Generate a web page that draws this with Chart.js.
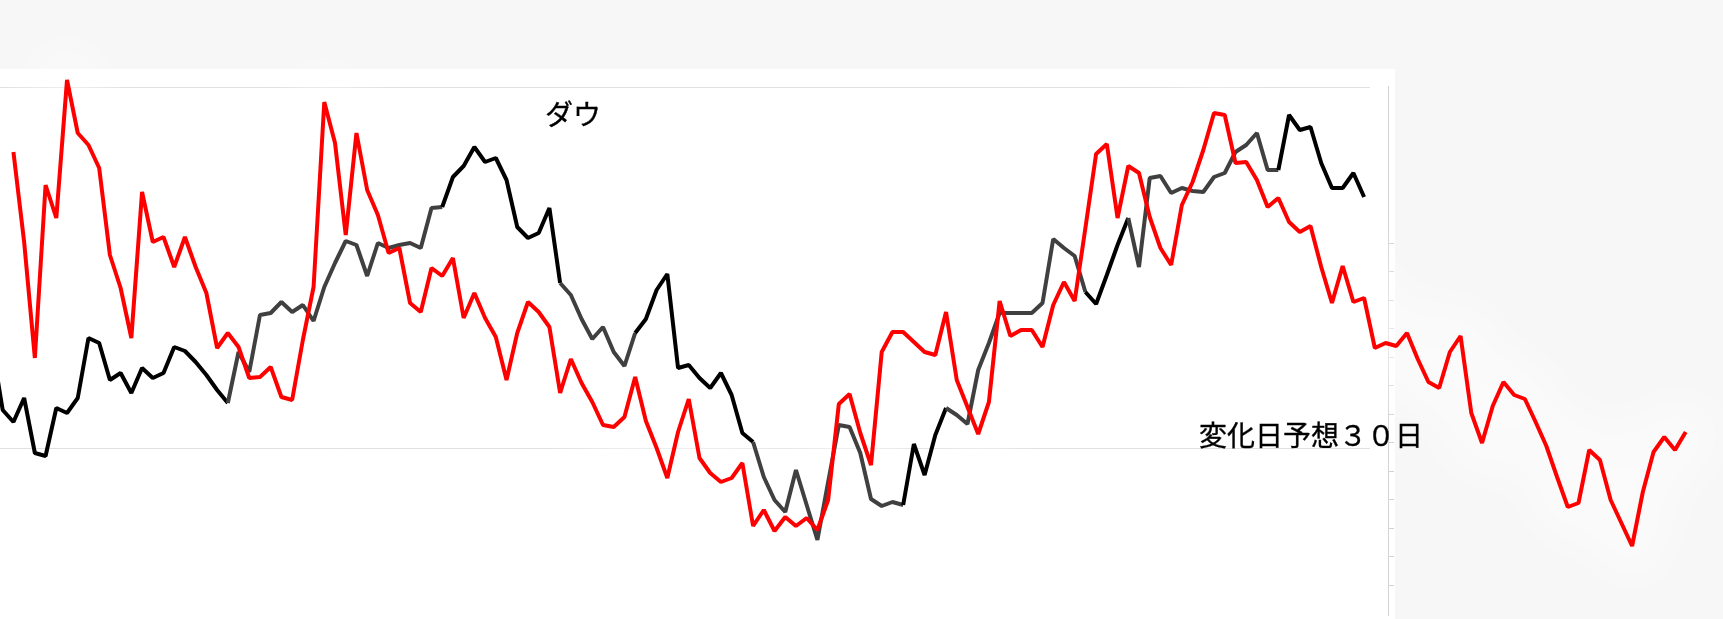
<!DOCTYPE html>
<html lang="ja">
<head>
<meta charset="utf-8">
<title>ダウ 変化日予想３０日</title>
<script src="https://cdn.jsdelivr.net/npm/chart.js@4.4.1/dist/chart.umd.min.js"></script>
<style>
  html, body { margin: 0; padding: 0; background: #f7f7f7; overflow: hidden; }
  #wrap { position: relative; width: 1723px; height: 619px; }
</style>
</head>
<body>
<div id="wrap"><canvas id="chart" width="1723" height="619"></canvas></div>
<script>
// ダウ (日 -1 から 127)
var dow = [
  34515, 34190, 34130, 34250, 33975, 33960, 34200, 34175, 34250, 34550,
  34525, 34340, 34375, 34275, 34400, 34350, 34375, 34505, 34485, 34430,
  34365, 34290, 34225, 34480, 34380, 34665, 34675, 34730, 34680, 34715,
  34635, 34805, 34925, 35035, 35015, 34860, 35025, 35000, 35015, 35025,
  35000, 35200, 35205, 35355, 35410, 35505, 35430, 35450, 35340, 35105,
  35050, 35075, 35200, 34825, 34765, 34645, 34545, 34605, 34480, 34410,
  34575, 34645, 34790, 34870, 34400, 34415, 34350, 34300, 34375, 34265,
  34075, 34030, 33855, 33740, 33680, 33890, 33715, 33540, 33830, 34115,
  34105, 33975, 33745, 33710, 33730, 33715, 34020, 33865, 34065, 34200,
  34165, 34120, 34390, 34525, 34675, 34675, 34675, 34675, 34725, 35045,
  35000, 34960, 34780, 34720, 34865, 35015, 35150, 34905, 35350, 35360,
  35275, 35300, 35285, 35280, 35355, 35375, 35480, 35515, 35575, 35390,
  35390, 35665, 35590, 35605, 35425, 35300, 35300, 35375, 35255
];

// 変化日予想３０日 (日 -1 から 157)
var forecast30 = [
  null, null, 35480, 35030, 34450, 35315, 35150, 35840, 35575, 35515,
  35400, 34965, 34800, 34550, 35280, 35030, 35055, 34905, 35055, 34905,
  34775, 34500, 34575, 34505, 34350, 34355, 34405, 34255, 34240, 34540,
  34805, 35730, 35525, 35065, 35575, 35290, 35165, 34975, 35000, 34725,
  34680, 34900, 34860, 34950, 34650, 34775, 34650, 34555, 34340, 34575,
  34730, 34680, 34605, 34275, 34445, 34325, 34230, 34115, 34105, 34155,
  34355, 34135, 34000, 33850, 34080, 34245, 33950, 33875, 33830, 33850,
  33925, 33610, 33690, 33585, 33655, 33610, 33650, 33590, 33740, 34220,
  34270, 34075, 33915, 34480, 34580, 34580, 34530, 34480, 34465, 34680,
  34340, 34205, 34070, 34230, 34735, 34560, 34590, 34590, 34505, 34715,
  34830, 34735, 35100, 35470, 35520, 35150, 35410, 35375, 35155, 35000,
  34915, 35215, 35330, 35490, 35675, 35665, 35425, 35430, 35340, 35205,
  35250, 35130, 35080, 35110, 34905, 34725, 34910, 34730, 34750, 34500,
  34525, 34510, 34575, 34445, 34330, 34300, 34480, 34560, 34175, 34025,
  34210, 34330, 34265, 34245, 34130, 34010, 33855, 33705, 33725, 33990,
  33940, 33740, 33625, 33510, 33780, 33980, 34055, 33990, 34080
];

// ダウが灰色の期間 [開始日, 終了日)
var grayRuns = [[21, 41], [52, 59], [70, 84], [88, 101], [105, 119]];

var gridValues = [34000, 35805];
var rightTicks = [0, 1, 2, 3, 4, 5, 6, 7, 8, 9, 10, 11, 12];
var lastDowDay = 127.55;

var days = forecast30.map(function (v, i) { return i - 1; });

function isGray(day) {
  for (var i = 0; i < grayRuns.length; i++) {
    if (day >= grayRuns[i][0] && day < grayRuns[i][1]) return true;
  }
  return false;
}

var panelPlugin = {
  id: 'panel',
  beforeDraw: function (chart) {
    var ctx = chart.ctx;
    ctx.save();
    ctx.fillStyle = '#ffffff';
    ctx.fillRect(0, 69, 1395, 550);
    ctx.restore();
  },
  // soft white halo under the red line (only visible on the grey part)
  beforeDatasetDraw: function (chart, args) {
    if (args.index === 2) {
      chart.ctx.save();
      chart.ctx.filter = 'blur(22px)';
    }
  },
  afterDatasetDraw: function (chart, args) {
    if (args.index === 2) chart.ctx.restore();
  }
};

var textPlugin = {
  id: 'texts',
  afterDraw: function (chart) {
    var ctx = chart.ctx;
    ctx.save();
    ctx.fillStyle = '#000000';
    ctx.strokeStyle = '#000000';
    ctx.lineWidth = 0.35;
    ctx.font = '28px "Noto Sans CJK JP"';
    ctx.textAlign = 'center';
    ctx.textBaseline = 'middle';
    ctx.fillText('ダウ', 573, 114);
    ctx.strokeText('ダウ', 573, 114);
    ctx.fillText('変化日予想３０日', 1311, 435);
    ctx.strokeText('変化日予想３０日', 1311, 435);
    ctx.restore();
  }
};

new Chart(document.getElementById('chart'), {
  type: 'line',
  data: {
    labels: days,
    datasets: [
      {
        label: '変化日予想３０日',
        data: forecast30,
        borderColor: '#ff0000',
        borderWidth: 4,
        borderJoinStyle: 'bevel',
        pointRadius: 0,
        tension: 0,
        clip: false
      },
      {
        label: 'ダウ',
        data: dow,
        borderColor: '#000000',
        borderWidth: 4,
        borderJoinStyle: 'bevel',
        pointRadius: 0,
        tension: 0,
        clip: false,
        segment: {
          borderColor: function (ctx) {
            return isGray(days[ctx.p0DataIndex]) ? '#404040' : '#000000';
          }
        }
      },
      {
        label: 'halo',
        data: forecast30,
        borderColor: 'rgba(255,255,255,0.45)',
        borderWidth: 70,
        borderJoinStyle: 'round',
        borderCapStyle: 'round',
        pointRadius: 0,
        tension: 0,
        clip: false
      }
    ]
  },
  options: {
    responsive: false,
    animation: false,
    devicePixelRatio: 1,
    layout: { padding: { left: 0, top: 86, right: 329, bottom: 4 } },
    plugins: {
      legend: { display: false },
      tooltip: { enabled: false },
      title: { display: false }
    },
    scales: {
      x: {
        type: 'linear',
        display: false,
        bounds: 'data',
        min: -0.252,
        afterDataLimits: function (s) { s.max = lastDowDay; }
      },
      y: {
        position: 'left',
        min: 33165,
        max: 35810,
        bounds: 'data',
        afterBuildTicks: function (s) {
          s.ticks = gridValues.map(function (v) { return { value: v }; });
        },
        ticks: { display: false },
        border: { display: false },
        grid: { color: '#e0e0e0', lineWidth: 1, drawTicks: false }
      },
      yGap: {
        position: 'right',
        weight: 0,
        min: 0,
        max: 1,
        ticks: { display: false },
        border: { display: false },
        grid: { display: false },
        afterFit: function (s) { s.width = 18; }
      },
      yRight: {
        position: 'right',
        weight: 1,
        min: -1.0526,
        max: 17.509,
        bounds: 'data',
        afterBuildTicks: function (s) {
          s.ticks = rightTicks.map(function (v) { return { value: v }; });
        },
        ticks: { display: false },
        border: { display: true, color: '#d4d4d4', width: 1 },
        grid: { drawOnChartArea: false, drawTicks: true, tickLength: 6, color: '#d4d4d4' },
        afterFit: function (s) { s.width = 6; }
      }
    }
  },
  plugins: [panelPlugin, textPlugin]
});
</script>
</body>
</html>
